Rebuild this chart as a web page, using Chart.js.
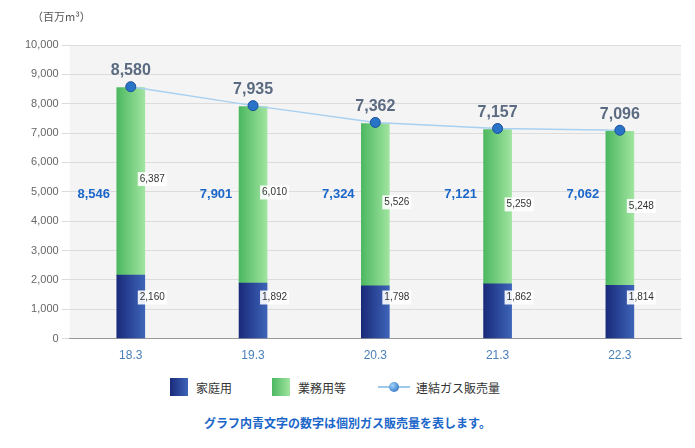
<!DOCTYPE html><html><head><meta charset="utf-8">
<script src="https://cdn.jsdelivr.net/npm/chart.js@4"></script>
<style>
body{margin:0;background:#fff;font-family:"Noto Sans CJK JP","Noto Sans",sans-serif;}
#wrap{position:relative;width:695px;height:448px;}
#cw{position:absolute;left:0;top:0;width:695px;height:365px;}
#unit{position:absolute;left:32px;top:8px;font-size:11px;color:#555;}
#leg{position:absolute;top:378px;left:0;width:695px;font-size:12px;color:#333;}
.li{position:absolute;top:0;display:flex;align-items:center;}
#note{position:absolute;top:414px;left:0;width:695px;text-align:center;font-size:12px;font-weight:bold;color:#1b66c9;}
</style></head><body>
<div id="wrap"><div id="cw"><canvas id="c"></canvas></div>
<div id="unit">（百万m³）</div>
<div id="leg">
<div class="li" style="left:170px"><span style="display:inline-block;width:18px;height:18px;background:linear-gradient(90deg,#1a2a7a,#3d64b8);margin-right:8px"></span>家庭用</div>
<div class="li" style="left:272px"><span style="display:inline-block;width:18px;height:18px;background:linear-gradient(90deg,#4cb860,#a0e4a0);margin-right:8px"></span>業務用等</div>
<div class="li" style="left:378px"><span style="position:relative;display:inline-block;width:32px;height:18px;margin-right:6px"><span style="position:absolute;left:0;top:8px;width:32px;height:2px;background:#9cc8ea"></span><span style="position:absolute;left:11px;top:4px;width:10px;height:10px;border-radius:50%;background:radial-gradient(circle at 35% 35%,#9fd4ff,#1a5fb4)"></span></span>連結ガス販売量</div>
</div>
<div id="note">グラフ内青文字の数字は個別ガス販売量を表します。</div></div>
<script>
const categories=["18.3","19.3","20.3","21.3","22.3"];
const household=[2160,1892,1798,1862,1814];
const business=[6387,6010,5526,5259,5248];
const individual=[8546,7901,7324,7121,7062];
const consolidated=[8580,7935,7362,7157,7096];
const yTicks=[0,1000,2000,3000,4000,5000,6000,7000,8000,9000,10000];
function grad(c0,c1){return (ctx)=>{const ch=ctx.chart;if(!ch.chartArea||!ch.scales.x)return c0;const x=ch.scales.x.getPixelForValue(ctx.dataIndex);const g=ch.ctx.createLinearGradient(x-14,0,x+14,0);g.addColorStop(0,c0);g.addColorStop(1,c1);return g;};}
const bg={id:'bg',beforeDraw(ch){const a=ch.chartArea,c=ch.ctx;c.save();c.fillStyle='#f4f4f4';c.fillRect(a.left,a.top,a.right-a.left,a.bottom-a.top);c.restore();}};
const labels={id:'labels',afterDatasetsDraw(ch){const c=ch.ctx,x=ch.scales.x,y=ch.scales.y;c.save();
function box(t,px,py){c.font='10px "Liberation Sans",sans-serif';const w=c.measureText(t).width+4;c.fillStyle='rgba(255,255,255,0.9)';c.fillRect(px-2,py-7,w,14);c.fillStyle='#333';c.textAlign='left';c.textBaseline='middle';c.fillText(t,px,py);}
categories.forEach((k,i)=>{const px=x.getPixelForValue(i);
box(household[i].toLocaleString('en-US'),px+9,y.getPixelForValue(1400));
box(business[i].toLocaleString('en-US'),px+9,y.getPixelForValue(household[i]+business[i]/2+80));
c.font='bold 13px "Liberation Sans",sans-serif';c.fillStyle='#1b66c9';c.textAlign='center';c.textBaseline='middle';c.fillText(individual[i].toLocaleString('en-US'),px-37,y.getPixelForValue(4900));
c.font='bold 16px "Liberation Sans",sans-serif';c.fillStyle='#5a6a80';c.textBaseline='bottom';c.fillText(consolidated[i].toLocaleString('en-US'),px,y.getPixelForValue(consolidated[i])-8);});
c.restore();}};
new Chart(document.getElementById('c'),{data:{labels:categories,datasets:[
{type:'line',data:consolidated,borderColor:'#a8d0f0',borderWidth:1.5,pointRadius:5,pointBackgroundColor:'#2a74c8',pointBorderColor:'#1a4f9a',pointBorderWidth:1,order:0},
{type:'bar',data:household,backgroundColor:grad('#1a2a7a','#3d64b8'),barThickness:28,stack:'s',order:1},
{type:'bar',data:business,backgroundColor:grad('#4cb860','#a0e4a0'),barThickness:28,stack:'s',order:1}]},
options:{responsive:true,maintainAspectRatio:false,animation:false,layout:{padding:{left:22,right:14,top:45,bottom:0}},
plugins:{legend:{display:false},tooltip:{enabled:false}},
scales:{x:{stacked:true,grid:{display:false},border:{color:'#999'},ticks:{color:'#4a7fb8',font:{size:12,family:'Liberation Sans'},padding:2}},
y:{stacked:true,min:0,max:10000,afterBuildTicks:(s)=>{s.ticks=yTicks.map(v=>({value:v}));},grid:{color:'#dcdcdc'},border:{display:false},ticks:{color:'#666',font:{size:11,family:'Liberation Sans'},callback:v=>v.toLocaleString('en-US')}}}},
plugins:[bg,labels]});
</script></body></html>
